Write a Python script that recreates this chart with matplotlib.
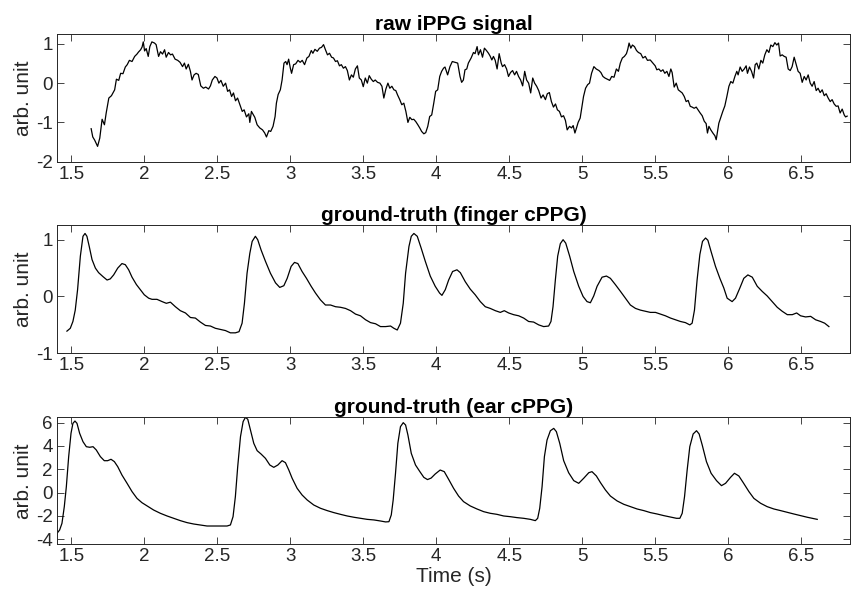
import numpy as np
import matplotlib
matplotlib.use('Agg')
import matplotlib.pyplot as plt

# raw iPPG signal
t_raw = [1.636, 1.647, 1.660, 1.680, 1.695, 1.711, 1.727, 1.739, 1.757, 1.775, 1.797, 1.809, 1.825, 1.838, 1.854,
         1.870, 1.883, 1.898, 1.916, 1.934, 1.950, 1.960, 1.975, 1.985, 1.993, 2.002, 2.013, 2.027, 2.038, 2.052,
         2.070, 2.081, 2.098, 2.111, 2.125, 2.139, 2.150, 2.166, 2.180, 2.193, 2.211, 2.229, 2.245, 2.262, 2.275,
         2.287, 2.302, 2.316, 2.327, 2.341, 2.355, 2.370, 2.387, 2.405, 2.421, 2.440, 2.453, 2.466, 2.484, 2.498,
         2.511, 2.525, 2.541, 2.557, 2.571, 2.584, 2.598, 2.611, 2.625, 2.639, 2.655, 2.671, 2.684, 2.700, 2.716,
         2.723, 2.734, 2.757, 2.773, 2.791, 2.810, 2.825, 2.837, 2.853, 2.866, 2.882, 2.896, 2.905, 2.917, 2.932,
         2.944, 2.957, 2.969, 2.978, 2.989, 3.000, 3.009, 3.023, 3.037, 3.053, 3.068, 3.082, 3.098, 3.114, 3.128,
         3.144, 3.155, 3.169, 3.185, 3.200, 3.214, 3.228, 3.241, 3.255, 3.269, 3.283, 3.296, 3.310, 3.323, 3.337,
         3.350, 3.364, 3.378, 3.391, 3.405, 3.419, 3.432, 3.446, 3.460, 3.473, 3.487, 3.500, 3.514, 3.528, 3.541,
         3.555, 3.569, 3.582, 3.598, 3.614, 3.628, 3.641, 3.655, 3.669, 3.682, 3.696, 3.710, 3.723, 3.735, 3.750,
         3.764, 3.778, 3.792, 3.806, 3.819, 3.833, 3.846, 3.860, 3.874, 3.887, 3.900, 3.915, 3.928, 3.942, 3.955,
         3.969, 3.983, 3.996, 4.010, 4.024, 4.037, 4.050, 4.060, 4.078, 4.094, 4.110, 4.128, 4.147, 4.163, 4.174,
         4.186, 4.197, 4.209, 4.220, 4.239, 4.255, 4.266, 4.280, 4.289, 4.303, 4.317, 4.330, 4.344, 4.358, 4.369,
         4.381, 4.392, 4.404, 4.417, 4.431, 4.445, 4.454, 4.468, 4.482, 4.495, 4.509, 4.523, 4.537, 4.550, 4.564,
         4.578, 4.592, 4.606, 4.619, 4.633, 4.647, 4.661, 4.674, 4.688, 4.702, 4.718, 4.732, 4.748, 4.761, 4.775,
         4.789, 4.803, 4.817, 4.830, 4.844, 4.858, 4.872, 4.885, 4.897, 4.913, 4.927, 4.938, 4.950, 4.961, 4.972,
         4.986, 4.995, 5.009, 5.023, 5.037, 5.050, 5.064, 5.080, 5.096, 5.115, 5.128, 5.142, 5.156, 5.172, 5.188,
         5.202, 5.218, 5.234, 5.248, 5.261, 5.275, 5.289, 5.303, 5.312, 5.321, 5.333, 5.344, 5.358, 5.372, 5.385,
         5.401, 5.416, 5.432, 5.447, 5.466, 5.484, 5.500, 5.511, 5.525, 5.539, 5.553, 5.566, 5.580, 5.594, 5.607,
         5.616, 5.630, 5.644, 5.658, 5.671, 5.685, 5.699, 5.712, 5.726, 5.740, 5.753, 5.767, 5.781, 5.795, 5.808,
         5.822, 5.836, 5.849, 5.858, 5.868, 5.881, 5.895, 5.909, 5.918, 5.927, 5.936, 5.950, 5.963, 5.977, 5.991,
         6.005, 6.018, 6.032, 6.046, 6.059, 6.068, 6.082, 6.096, 6.110, 6.123, 6.132, 6.146, 6.160, 6.174, 6.185,
         6.196, 6.210, 6.224, 6.237, 6.251, 6.265, 6.279, 6.292, 6.306, 6.320, 6.333, 6.345, 6.356, 6.370, 6.384,
         6.397, 6.411, 6.425, 6.438, 6.452, 6.466, 6.479, 6.493, 6.507, 6.521, 6.534, 6.548, 6.562, 6.575, 6.589,
         6.603, 6.616, 6.630, 6.644, 6.658, 6.671, 6.685, 6.699, 6.712, 6.726, 6.740, 6.753, 6.767, 6.781, 6.795,
         6.804, 6.815]
raw = [-1.16, -1.37, -1.45, -1.61, -1.40, -0.92, -1.06, -0.76, -0.38, -0.32, -0.17, 0.10, 0.07, 0.25, 0.24,
       0.41, 0.47, 0.58, 0.55, 0.68, 0.74, 0.79, 0.85, 0.92, 1.05, 0.82, 0.88, 0.68, 0.93, 1.05,
       1.02, 0.98, 0.68, 0.80, 0.74, 0.85, 0.66, 0.78, 0.72, 0.74, 0.61, 0.58, 0.53, 0.42, 0.51,
       0.36, 0.48, 0.30, 0.08, 0.21, 0.25, 0.22, -0.07, -0.13, -0.10, -0.15, -0.07, 0.08, 0.17, 0.13,
       0.00, 0.07, -0.08, 0.00, -0.21, -0.17, -0.34, -0.25, -0.45, -0.38, -0.55, -0.72, -0.68, -0.86, -0.78,
       -1.00, -0.72, -0.87, -1.06, -1.14, -1.19, -1.27, -1.37, -1.21, -1.23, -1.10, -0.85, -0.51, -0.29, -0.17,
       0.08, 0.51, 0.55, 0.47, 0.61, 0.39, 0.25, 0.47, 0.49, 0.58, 0.53, 0.58, 0.47, 0.64, 0.68,
       0.83, 0.76, 0.86, 0.81, 0.89, 0.91, 0.98, 0.85, 0.72, 0.76, 0.66, 0.64, 0.55, 0.57, 0.44,
       0.47, 0.38, 0.42, 0.32, 0.08, 0.21, 0.15, 0.36, 0.44, 0.13, 0.08, -0.09, 0.13, 0.00, 0.19,
       0.10, 0.04, 0.08, 0.02, 0.00, -0.08, -0.38, -0.15, 0.00, -0.13, -0.08, -0.17, -0.19, -0.30, -0.42,
       -0.55, -0.51, -0.72, -1.00, -0.87, -0.93, -0.92, -0.98, -1.06, -1.14, -1.23, -1.29, -1.26, -1.10, -0.85,
       -0.81, -0.51, -0.21, -0.17, 0.17, 0.30, 0.38, 0.41, 0.21, 0.42, 0.55, 0.53, 0.51, 0.17, 0.02,
       0.08, 0.34, 0.36, 0.51, 0.64, 0.78, 0.75, 0.93, 0.72, 0.85, 0.66, 0.89, 0.83, 0.76, 0.69,
       0.59, 0.68, 0.58, 0.36, 0.75, 0.51, 0.42, 0.47, 0.36, 0.17, 0.27, 0.32, 0.21, 0.30, 0.17,
       0.08, -0.07, 0.30, 0.08, 0.00, -0.25, 0.13, 0.00, -0.08, -0.19, -0.38, -0.30, -0.42, -0.27, -0.24,
       -0.47, -0.61, -0.53, -0.68, -0.72, -0.86, -0.83, -0.95, -1.19, -1.10, -1.14, -1.08, -1.27, -1.14, -1.00,
       -0.89, -0.68, -0.34, -0.13, -0.04, 0.00, 0.25, 0.42, 0.36, 0.32, 0.27, 0.17, 0.13, 0.10, 0.07,
       0.17, 0.15, 0.36, 0.30, 0.51, 0.64, 0.68, 0.75, 0.86, 1.02, 0.89, 0.97, 0.93, 0.83, 0.78,
       0.75, 0.64, 0.68, 0.58, 0.59, 0.51, 0.44, 0.34, 0.36, 0.30, 0.34, 0.25, 0.30, 0.17, 0.36,
       0.27, -0.10, 0.00, -0.17, -0.21, -0.25, -0.34, -0.47, -0.44, -0.59, -0.61, -0.64, -0.61, -0.69, -0.76,
       -0.83, -0.97, -1.03, -1.27, -1.10, -1.19, -1.27, -1.34, -1.44, -1.23, -1.02, -0.86, -0.72, -0.58, -0.34,
       -0.08, 0.04, 0.00, 0.17, 0.30, 0.21, 0.41, 0.30, 0.36, 0.44, 0.25, 0.41, 0.30, 0.13, 0.47,
       0.51, 0.36, 0.58, 0.51, 0.72, 0.85, 0.78, 0.97, 0.93, 1.03, 0.97, 1.02, 0.69, 0.72, 0.68,
       0.66, 0.36, 0.32, 0.42, 0.66, 0.47, 0.30, 0.25, 0.02, 0.17, 0.08, 0.21, 0.00, -0.08, 0.04,
       -0.19, -0.13, -0.24, -0.17, -0.32, -0.27, -0.38, -0.47, -0.42, -0.53, -0.59, -0.58, -0.76, -0.66, -0.81,
       -0.86, -0.84]

# ground-truth finger cPPG
t_finger = [1.470, 1.493, 1.511, 1.527, 1.543, 1.562, 1.580, 1.594, 1.607, 1.623, 1.642, 1.665, 1.687, 1.717,
            1.745, 1.767, 1.790, 1.818, 1.847, 1.870, 1.893, 1.916, 1.946, 1.973, 2.000, 2.030, 2.053, 2.087,
            2.122, 2.151, 2.179, 2.213, 2.247, 2.282, 2.316, 2.350, 2.384, 2.419, 2.453, 2.487, 2.521, 2.556,
            2.590, 2.624, 2.649, 2.670, 2.686, 2.704, 2.723, 2.739, 2.761, 2.777, 2.800, 2.830, 2.864, 2.899,
            2.928, 2.956, 2.979, 3.006, 3.029, 3.052, 3.081, 3.111, 3.143, 3.173, 3.207, 3.241, 3.276, 3.310,
            3.344, 3.378, 3.413, 3.447, 3.481, 3.516, 3.550, 3.584, 3.618, 3.653, 3.687, 3.710, 3.733, 3.755,
            3.774, 3.790, 3.813, 3.829, 3.847, 3.870, 3.897, 3.925, 3.959, 3.993, 4.023, 4.039, 4.062, 4.085,
            4.112, 4.142, 4.165, 4.199, 4.233, 4.267, 4.302, 4.336, 4.370, 4.405, 4.439, 4.466, 4.496, 4.530,
            4.565, 4.599, 4.633, 4.667, 4.702, 4.736, 4.770, 4.786, 4.800, 4.816, 4.832, 4.850, 4.869, 4.887,
            4.914, 4.942, 4.976, 5.006, 5.033, 5.056, 5.079, 5.102, 5.136, 5.166, 5.193, 5.227, 5.262, 5.296,
            5.330, 5.365, 5.399, 5.433, 5.467, 5.502, 5.536, 5.570, 5.605, 5.639, 5.673, 5.707, 5.737, 5.753,
            5.769, 5.787, 5.806, 5.824, 5.845, 5.861, 5.883, 5.913, 5.943, 5.970, 5.993, 6.027, 6.050, 6.080,
            6.107, 6.135, 6.165, 6.199, 6.233, 6.267, 6.302, 6.336, 6.370, 6.405, 6.439, 6.469, 6.496, 6.530,
            6.565, 6.599, 6.633, 6.661, 6.690]
finger = [-0.61, -0.56, -0.44, -0.24, 0.12, 0.71, 1.06, 1.11, 1.06, 0.88, 0.65, 0.50, 0.42, 0.35,
          0.29, 0.31, 0.38, 0.50, 0.58, 0.56, 0.47, 0.34, 0.21, 0.12, 0.03, -0.03, -0.05, -0.05,
          -0.09, -0.12, -0.10, -0.18, -0.25, -0.29, -0.37, -0.38, -0.45, -0.51, -0.52, -0.56, -0.58, -0.60,
          -0.64, -0.64, -0.62, -0.47, -0.12, 0.41, 0.76, 0.97, 1.06, 1.00, 0.82, 0.62, 0.41, 0.24,
          0.16, 0.19, 0.32, 0.53, 0.60, 0.58, 0.44, 0.32, 0.18, 0.06, -0.06, -0.15, -0.15, -0.18,
          -0.19, -0.21, -0.25, -0.31, -0.34, -0.41, -0.46, -0.48, -0.53, -0.53, -0.52, -0.56, -0.59, -0.47,
          -0.12, 0.41, 0.88, 1.06, 1.11, 1.06, 0.85, 0.62, 0.36, 0.18, 0.06, 0.02, 0.12, 0.29,
          0.44, 0.47, 0.42, 0.26, 0.13, 0.03, -0.09, -0.18, -0.21, -0.25, -0.28, -0.25, -0.29, -0.32,
          -0.34, -0.38, -0.44, -0.45, -0.50, -0.53, -0.52, -0.44, -0.18, 0.29, 0.71, 0.93, 1.00, 0.94,
          0.71, 0.44, 0.18, 0.00, -0.09, -0.11, 0.01, 0.18, 0.34, 0.36, 0.32, 0.21, 0.09, -0.03,
          -0.15, -0.21, -0.24, -0.26, -0.28, -0.28, -0.31, -0.34, -0.38, -0.41, -0.44, -0.46, -0.50, -0.47,
          -0.24, 0.29, 0.74, 0.97, 1.03, 0.99, 0.79, 0.53, 0.32, 0.15, -0.03, -0.09, -0.03, 0.15,
          0.32, 0.38, 0.34, 0.18, 0.09, 0.01, -0.09, -0.19, -0.26, -0.32, -0.32, -0.29, -0.34, -0.36,
          -0.35, -0.41, -0.44, -0.47, -0.53]

# ground-truth ear cPPG
t_ear = [1.402, 1.420, 1.436, 1.452, 1.466, 1.482, 1.498, 1.511, 1.525, 1.539, 1.557, 1.580, 1.603, 1.626,
         1.649, 1.671, 1.699, 1.726, 1.749, 1.772, 1.795, 1.818, 1.847, 1.882, 1.916, 1.950, 1.984, 2.019,
         2.064, 2.110, 2.156, 2.202, 2.247, 2.293, 2.339, 2.384, 2.430, 2.476, 2.521, 2.567, 2.590, 2.608,
         2.624, 2.640, 2.659, 2.677, 2.693, 2.709, 2.727, 2.750, 2.773, 2.800, 2.830, 2.860, 2.887, 2.915,
         2.944, 2.967, 2.990, 3.013, 3.047, 3.081, 3.116, 3.161, 3.207, 3.253, 3.298, 3.344, 3.390, 3.436,
         3.481, 3.527, 3.573, 3.618, 3.653, 3.676, 3.692, 3.705, 3.721, 3.737, 3.755, 3.774, 3.790, 3.806,
         3.829, 3.858, 3.888, 3.915, 3.940, 3.965, 3.993, 4.027, 4.055, 4.085, 4.119, 4.153, 4.187, 4.233,
         4.279, 4.325, 4.370, 4.416, 4.462, 4.507, 4.553, 4.599, 4.645, 4.679, 4.695, 4.709, 4.725, 4.741,
         4.759, 4.782, 4.805, 4.823, 4.846, 4.873, 4.907, 4.942, 4.976, 5.010, 5.045, 5.067, 5.097, 5.125,
         5.159, 5.193, 5.239, 5.285, 5.330, 5.376, 5.422, 5.467, 5.513, 5.559, 5.605, 5.646, 5.669, 5.685,
         5.701, 5.719, 5.737, 5.760, 5.783, 5.801, 5.822, 5.851, 5.883, 5.920, 5.954, 5.982, 6.016, 6.043,
         6.073, 6.103, 6.142, 6.176, 6.222, 6.267, 6.313, 6.359, 6.405, 6.450, 6.496, 6.542, 6.576, 6.610]
ear = [-3.49, -3.20, -2.63, -1.20, 0.51, 3.09, 5.09, 5.94, 6.14, 5.94, 5.09, 4.37, 3.94, 3.89,
       3.94, 3.66, 3.09, 2.74, 2.74, 2.86, 2.66, 2.23, 1.51, 0.80, 0.09, -0.49, -0.86, -1.14,
       -1.49, -1.77, -2.00, -2.20, -2.40, -2.57, -2.69, -2.77, -2.86, -2.86, -2.86, -2.86, -2.77, -2.06,
       -0.34, 2.23, 4.80, 6.09, 6.46, 6.29, 5.37, 4.23, 3.60, 3.31, 2.94, 2.37, 2.17, 2.37,
       2.74, 2.57, 1.94, 1.23, 0.37, -0.20, -0.63, -1.06, -1.34, -1.54, -1.71, -1.86, -2.00, -2.11,
       -2.20, -2.29, -2.34, -2.43, -2.51, -2.49, -1.91, -0.63, 1.66, 4.23, 5.66, 6.00, 5.80, 4.94,
       3.37, 2.37, 1.80, 1.31, 1.12, 1.25, 1.60, 1.94, 1.80, 1.14, 0.37, -0.29, -0.77, -1.14,
       -1.40, -1.63, -1.77, -1.86, -2.00, -2.06, -2.14, -2.20, -2.29, -2.40, -2.20, -1.34, 0.51, 3.09,
       4.51, 5.31, 5.51, 5.23, 4.23, 2.74, 1.71, 1.03, 0.80, 1.23, 1.71, 1.80, 1.43, 0.86,
       0.23, -0.29, -0.71, -1.00, -1.20, -1.40, -1.54, -1.71, -1.83, -1.97, -2.09, -2.20, -2.20, -1.77,
       -0.34, 1.94, 3.94, 5.03, 5.31, 5.03, 4.09, 2.66, 1.66, 1.03, 0.60, 0.80, 1.31, 1.66,
       1.43, 0.86, 0.09, -0.49, -0.91, -1.20, -1.40, -1.54, -1.69, -1.83, -1.97, -2.11, -2.20, -2.29]

titles = ['raw iPPG signal', 'ground-truth (finger cPPG)', 'ground-truth (ear cPPG)']
ylims = [(-2, 1.25), (-1, 1.26), (-4.43, 6.46)]
yticks = [[-2, -1, 0, 1], [-1, 0, 1], [-4, -2, 0, 2, 4, 6]]
xticks = [1.5, 2, 2.5, 3, 3.5, 4, 4.5, 5, 5.5, 6, 6.5]

plt.rcParams['font.family'] = ['Liberation Sans', 'DejaVu Sans']
plt.rcParams['axes.unicode_minus'] = False

axcol = '#262626'
fig = plt.figure(figsize=(8.54, 6.0), dpi=100)
fig.patch.set_facecolor('white')

# axes positions (figure fractions)
positions = [[0.0664, 0.7305, 0.929, 0.2128],
             [0.0664, 0.4112, 0.929, 0.2139],
             [0.0664, 0.0928, 0.929, 0.2117]]
series = [(t_raw, raw), (t_finger, finger), (t_ear, ear)]

for i in range(3):
    ax = fig.add_axes(positions[i])
    t, y = series[i]
    ax.plot(t, y, color='black', lw=0.9)
    ax.set_xlim(1.40, 6.835)
    ax.set_ylim(*ylims[i])
    ax.set_xticks(xticks)
    ax.set_xticklabels([('%g' % v) for v in xticks])
    ax.set_yticks(yticks[i])
    ax.set_yticklabels([('%g' % v) for v in yticks[i]])
    ax.tick_params(direction='in', top=True, right=True, length=5, width=0.6,
                   labelsize=13.5, colors=axcol, pad=3)
    for s in ax.spines.values():
        s.set_color(axcol)
        s.set_linewidth(0.7)
    ax.set_title(titles[i], fontsize=15, fontweight='bold', color='black', pad=3)
    ax.set_ylabel('arb. unit', fontsize=15, color=axcol, labelpad=2)
    if i == 2:
        ax.set_xlabel('Time (s)', fontsize=15, color=axcol, labelpad=1)

fig.savefig('out.png', dpi=100, facecolor='white')
